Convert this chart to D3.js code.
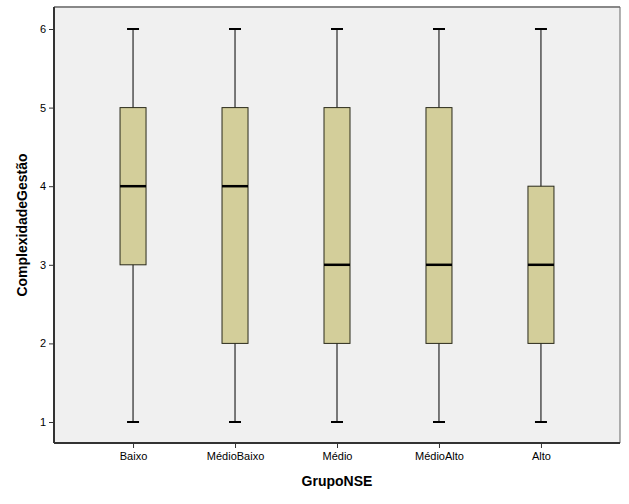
<!DOCTYPE html>
<html>
<head>
<meta charset="utf-8">
<script src="https://cdn.jsdelivr.net/npm/d3@7"></script>
<style>
  body { margin: 0; background: #fff; }
  text { font-family: "Liberation Sans", Arial, sans-serif; }
</style>
</head>
<body>
<div id="chart"></div>
<script>
var categories = ["Baixo", "MédioBaixo", "Médio", "MédioAlto", "Alto"];
var mins    = [1, 1, 1, 1, 1];
var q1s     = [3, 2, 2, 2, 2];
var medians = [4, 4, 3, 3, 3];
var q3s     = [5, 5, 5, 5, 4];
var maxs    = [6, 6, 6, 6, 6];
var yTicks  = [1, 2, 3, 4, 5, 6];

var width = 629, height = 504;
var plotLeft = 54, plotRight = 620, plotTop = 7, plotBottom = 443;

var svg = d3.select("#chart").append("svg")
    .attr("width", width)
    .attr("height", height);

var x = d3.scalePoint()
    .domain(categories)
    .range([plotLeft, plotRight])
    .padding(0.775);

var y = d3.scaleLinear()
    .domain([1, 6])
    .range([422, 29]);

// plot background
svg.append("rect")
    .attr("x", plotLeft).attr("y", plotTop)
    .attr("width", plotRight - plotLeft).attr("height", plotBottom - plotTop)
    .attr("fill", "#f0f0f0");

// frame: top/right grey, left/bottom dark
svg.append("line").attr("x1", plotLeft).attr("x2", plotRight).attr("y1", plotTop).attr("y2", plotTop)
    .attr("stroke", "#888").attr("stroke-width", 2);
svg.append("line").attr("x1", plotRight).attr("x2", plotRight).attr("y1", plotTop).attr("y2", plotBottom)
    .attr("stroke", "#666").attr("stroke-width", 1);

var data = categories.map((c, i) => ({
    cat: c, min: mins[i], q1: q1s[i], med: medians[i], q3: q3s[i], max: maxs[i]
}));

var boxW = 26, capW = 12;

var g = svg.append("g").selectAll("g")
    .data(data)
    .join("g");

g.append("line")
    .attr("x1", d => x(d.cat)).attr("x2", d => x(d.cat))
    .attr("y1", d => y(d.max)).attr("y2", d => y(d.min))
    .attr("stroke", "#000").attr("stroke-width", 1);

g.append("line")
    .attr("x1", d => x(d.cat) - capW / 2).attr("x2", d => x(d.cat) + capW / 2)
    .attr("y1", d => y(d.max)).attr("y2", d => y(d.max))
    .attr("stroke", "#000").attr("stroke-width", 2);

g.append("line")
    .attr("x1", d => x(d.cat) - capW / 2).attr("x2", d => x(d.cat) + capW / 2)
    .attr("y1", d => y(d.min)).attr("y2", d => y(d.min))
    .attr("stroke", "#000").attr("stroke-width", 2);

g.append("rect")
    .attr("x", d => x(d.cat) - boxW / 2)
    .attr("y", d => y(d.q3))
    .attr("width", boxW)
    .attr("height", d => y(d.q1) - y(d.q3))
    .attr("fill", "#d3ce9a")
    .attr("stroke", "#2a2a1a").attr("stroke-width", 1);

g.append("line")
    .attr("x1", d => x(d.cat) - boxW / 2).attr("x2", d => x(d.cat) + boxW / 2)
    .attr("y1", d => y(d.med)).attr("y2", d => y(d.med))
    .attr("stroke", "#000").attr("stroke-width", 2.5);

// axes
var yAxis = svg.append("g")
    .attr("transform", "translate(" + plotLeft + ",0)")
    .call(d3.axisLeft(y).tickValues(yTicks).tickSize(5).tickPadding(3).tickFormat(d3.format("d")));
yAxis.select(".domain").attr("d", "M0," + plotTop + "V" + plotBottom).attr("stroke", "#333").attr("stroke-width", 2);
yAxis.selectAll(".tick line").attr("stroke", "#333");
yAxis.selectAll("text").attr("font-size", 11).attr("fill", "#000");

var xAxis = svg.append("g")
    .attr("transform", "translate(0," + plotBottom + ")")
    .call(d3.axisBottom(x).tickSize(5).tickPadding(4));
xAxis.select(".domain").attr("d", "M" + plotLeft + ",0H" + plotRight).attr("stroke", "#333").attr("stroke-width", 2);
xAxis.selectAll(".tick line").attr("stroke", "#333");
xAxis.selectAll("text").attr("font-size", 11).attr("fill", "#000");

svg.append("text")
    .attr("x", (plotLeft + plotRight) / 2).attr("y", 486)
    .attr("text-anchor", "middle")
    .attr("font-size", 14).attr("font-weight", "bold")
    .text("GrupoNSE");

svg.append("text")
    .attr("transform", "translate(27," + ((plotTop + plotBottom) / 2) + ") rotate(-90)")
    .attr("text-anchor", "middle")
    .attr("font-size", 14).attr("font-weight", "bold")
    .text("ComplexidadeGestão");
</script>
</body>
</html>
